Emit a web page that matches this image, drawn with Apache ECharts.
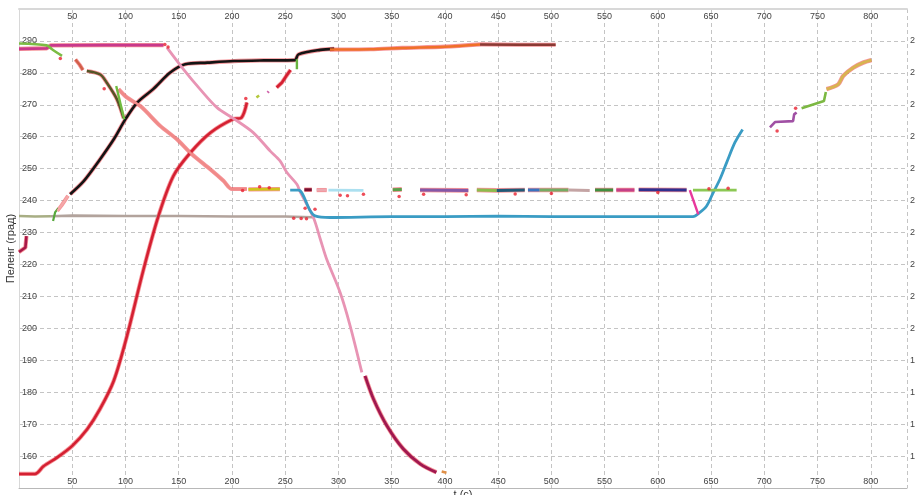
<!DOCTYPE html>
<html>
<head>
<meta charset="utf-8">
<script src="https://cdn.jsdelivr.net/npm/echarts@6/dist/echarts.min.js"></script>
<style>
html,body{margin:0;padding:0;background:#fff;}
#chart{width:915px;height:495px;}
</style>
</head>
<body>
<div id="chart"></div>
<script>
// ---- data: [t (c), bearing (deg)] ----
const redS = [[0,154.4],[15,154.4],[23,156.8],[36,159.6],[50,163.2],[64,168.4],[76,174.7],[89,183.6],[101,197.1],[117,218.5],[131,235.2],[145,247.7],[161,255.0],[180,261.3],[201,265.5],[209,266.0],[214,270.7]];
const redS2 = [[242,275.4],[247,277.0],[251,279.0],[255,280.9]];
const yellowGreenBit = [[223,272.3],[225.5,272.9]];
const pinkBit = [[233.5,273.8],[234.5,274.2]];
const blackTrack = [[48,242.0],[61,246.2],[76,252.9],[89,259.2],[100,265.5],[111,270.7],[126,274.9],[142,280.1],[156,282.7],[177,283.2],[202,283.7],[230,283.9],[259,284.0],[262.5,285.8],[283,287.2],[296,287.5]];
const greenVert = [[261,281.1],[261,284.3]];
const pinkDesc = [[139,287.9],[154.5,281.1],[170,274.9],[186,269.1],[201.5,265.7],[220,261.3],[236,255.5],[245,252.5],[251.6,248.8],[261,245.1],[264,242.8],[276.5,234.7],[283,227.9],[289,221.6],[301.6,211.2],[311,200.8],[322,186.2]];
const crimsonTail = [[325,185.1],[333,177.8],[345.5,169.5],[361,162.2],[377,157.5],[392,154.9]];
const orangeBit = [[397,155.2],[401.5,154.8]];
const magentaFlat = [[0,287.5],[26,287.7],[30,288.6],[80,288.7],[135.7,288.7]];
const salmonTrack = [[93.5,274.9],[101.3,272.3],[114,269.6],[132.6,263.4],[148.3,259.2],[162.4,254.5],[179.6,249.8],[192,246.2],[200,243.6],[214,243.6]];
const yellowSeg = [[215.5,243.5],[245,243.6]];
const oliveTrack = [[63.7,280.6],[76.3,279.5],[82.5,276.9],[92,271.7],[98.2,265.8]];
const brownRedBit = [[53,284.2],[57,282.5],[60,280.9]];
const greenShort = [[91.3,275.9],[98.8,265.5]];
const greenTopLeft = [[0,289.2],[26,288.6],[31,287.4],[40.4,285.3]];
const greyFlat = [[30,235.1],[50,235.3],[100,235.2],[150,235.2],[200,235.0],[250,235.0],[276,234.8]];
const greyGreenFlat = [[0,235.2],[15,235.0],[30,235.1]];
const greenTick = [[32,233.6],[34,236.4],[37,237.6]];
const darkRedLeft = [[0,223.9],[6,225.3],[7,228.9]];
const salmonDots = [[36,236.8],[40,238.5],[43,240.0],[46,241.5]];
const blueTrack = [[254.7,243.3],[262.5,243.3],[273.5,236.8],[278,235.2],[292,234.7],[350,235.0],[400,235.0],[450,235.1],[500,235.0],[550,235.0],[600,235.0],[633,235.0],[639.5,236.3],[645.8,238.3],[652,242.5],[658.3,246.7],[664.6,251.9],[672.4,258.2],[679.6,262.3]];
const pinkDrop = [[630,243.3],[638,235.7]];
const lightGreenSeg = [[633,243.3],[674,243.3]];
const seg243 = {
  maroon:[[268,243.4],[275,243.4]],
  pinkish:[[279.6,243.3],[289,243.3]],
  lightBlue:[[290.6,243.3],[323.5,243.2]],
  green:[[351,243.4],[359.5,243.5]],
  purple:[[376.7,243.3],[422,243.2]],
  lightGreen:[[430,243.3],[448.7,243.2]],
  darkTeal:[[448.7,243.2],[475,243.3]],
  blue:[[478,243.3],[489,243.3]],
  sage:[[489,243.3],[516,243.3]],
  greyPink:[[516,243.3],[536,243.2]],
  darkGreen:[[541,243.3],[558,243.3]],
  magenta:[[561,243.3],[578,243.3]],
  navy:[[582,243.4],[627,243.3]]
};
const orangeTop = [[292,287.3],[330,287.4],[360,287.8],[400,288.2],[433,288.9]];
const darkTop = [[433,288.9],[470,288.8],[504,288.8]];
const purpleRight = [[705.3,262.9],[710,264.6],[727,264.9],[728,267.0],[730.3,267.6]];
const greenRight = [[735,268.9],[756,271.2],[757.8,271.2],[757.8,274.0]];
const tanRight = [[758.4,274.9],[769.4,276.4],[774,279.0],[783.4,281.6],[792.8,283.2],[800.6,284.0]];
const redNoise = [[729.4,268.9],[712,261.8],[137,288.9],[140,288.1],[38.8,284.5],[268.7,237.6],[278,237.3],[301.6,241.7],[308.5,241.5],[323.5,242.0],[357,241.3],[265,234.4],[270,234.3],[258,234.5],[380,242],[420,241.8],[466,242.1],[500,242.2],[600,242.5],[648,243.7],[666,243.9],[226,244.3],[235,244.0],[213,272.0],[80,275.0],[210,243.2]];

const xTicks = {min:0, max:834, step:50};
const yTicks = {min:150, max:300, step:10};

// ---- build ----
const FONT = 'Liberation Sans, Arial, sans-serif';
const HALO = '#ec3a44';
const series = [];
function track(data, color, width, halo, smooth){
  const w = width || 2.6;
  const sm = smooth ? 0.3 : false;
  if (halo) {
    series.push({type:'line', data:data, showSymbol:false, symbol:'none', silent:true, z:1,
      smooth: sm, lineStyle:{color:HALO, width:w+1.6, opacity:0.55}});
  }
  series.push({type:'line', data:data, showSymbol:false, symbol:'none', silent:true, z:2,
    smooth: sm, lineStyle:{color:color, width:w}, itemStyle:{color:color}});
}
track(greyGreenFlat,'#a8ae84',2.6,false);
track(greyFlat,'#b2a39c',2.6,false);
track(darkRedLeft,'#a81848',2.6,true);
track(greenTick,'#58a83c',2.2,false);
track(salmonDots,'#f4a8a8',2.2,true);
track(magentaFlat,'#c8388c',2.8,true);
track(greenTopLeft,'#7cbc44',2.6,false,true);
track(brownRedBit,'#d06048',2.4,true);
track(redS,'#d42032',2.6,true,true);
track(redS2,'#d42032',2.6,true);
track(yellowGreenBit,'#b4c83c',2.6,false);
track(pinkBit,'#d060a8',2.6,false);
track(blackTrack,'#141414',2.6,true,true);
track(greenVert,'#68b440',2.4,false);
track(salmonTrack,'#f08a88',2.4,true,true);
track(yellowSeg,'#d0c41c',2.8,true);
track(oliveTrack,'#545426',2.4,true,true);
track(greenShort,'#70bc40',2.4,false);
track(pinkDesc,'#e894b4',2.8,false,true);
track(crimsonTail,'#a01850',2.8,true,true);
track(orangeBit,'#e09048',2.6,false);
track(blueTrack,'#3a9cc4',2.8,false,true);
track(pinkDrop,'#e8389c',2.4,false);
track(lightGreenSeg,'#8cc854',2.8,false);
track(seg243.maroon,'#7a1030',3,true);
track(seg243.pinkish,'#eca8b0',2.6,true);
track(seg243.lightBlue,'#ace0f0',2.8,false);
track(seg243.green,'#58a048',3,true);
track(seg243.purple,'#8458a8',3,true);
track(seg243.lightGreen,'#8cbc4c',3,true);
track(seg243.darkTeal,'#205a78',3,true);
track(seg243.blue,'#3a74c0',3,true);
track(seg243.sage,'#74ac64',3,true);
track(seg243.greyPink,'#c4a4a4',3,false);
track(seg243.darkGreen,'#409040',3,true);
track(seg243.magenta,'#c44088',3,true);
track(seg243.navy,'#303090',3,true);
track(orangeTop,'#f07028',2.6,true,true);
track(darkTop,'#8a3a34',2.6,true);
track(purpleRight,'#a050a4',2.6,false);
track(greenRight,'#7cb842',2.6,false);
track(tanRight,'#d8b450',2.8,true,true);
series.push({type:'scatter', data:redNoise, symbolSize:3.5, itemStyle:{color:'#e82030'}, silent:true, z:3});

const gridLine = {show:true, lineStyle:{color:'#c4c4c4', width:1, type:[4,3]}};
const labelStyle = {fontSize:9, color:'#444', fontFamily:FONT};
const chart = echarts.init(document.getElementById('chart'), null, {renderer:'canvas'});
chart.setOption({
  animation:false,
  backgroundColor:'#fff',
  grid:{left:19, right:8, top:9, bottom:7, containLabel:false, outerBoundsMode:'none'},
  xAxis:[
    {type:'value', position:'bottom', min:xTicks.min, max:xTicks.max, interval:xTicks.step,
     axisLine:{show:true, lineStyle:{color:'#b8b8b8'}}, axisTick:{show:false},
     axisLabel:Object.assign({inside:true, margin:2, showMinLabel:false, showMaxLabel:false}, labelStyle),
     splitLine:gridLine,
     name:'t (c)', nameLocation:'middle', nameGap:1, nameMoveOverlap:false,
     nameTextStyle:{fontSize:11, color:'#333', fontFamily:FONT, verticalAlign:'top'}},
    {type:'value', position:'top', min:xTicks.min, max:xTicks.max, interval:xTicks.step,
     axisLine:{show:true, lineStyle:{color:'#d8d8d8', width:2}}, axisTick:{show:false},
     axisLabel:Object.assign({inside:true, margin:3, showMinLabel:false, showMaxLabel:false}, labelStyle),
     splitLine:{show:false}}
  ],
  yAxis:[
    {type:'value', position:'left', min:yTicks.min, max:yTicks.max, interval:yTicks.step,
     axisLine:{show:true, lineStyle:{color:'#b8b8b8'}}, axisTick:{show:false},
     axisLabel:Object.assign({inside:true, margin:3, showMinLabel:false, showMaxLabel:false}, labelStyle),
     splitLine:gridLine,
     name:'Пеленг (град)', nameLocation:'middle', nameGap:3, nameRotate:90, nameMoveOverlap:false,
     nameTextStyle:{fontSize:11, color:'#333', fontFamily:FONT, verticalAlign:'bottom'}},
    {type:'value', position:'right', min:yTicks.min, max:yTicks.max, interval:yTicks.step,
     axisLine:{show:true, lineStyle:{color:'#d8d8d8'}}, axisTick:{show:false},
     axisLabel:Object.assign({inside:false, margin:3, showMinLabel:false, showMaxLabel:false}, labelStyle),
     splitLine:{show:false}}
  ],
  series:series
});
</script>
</body>
</html>
